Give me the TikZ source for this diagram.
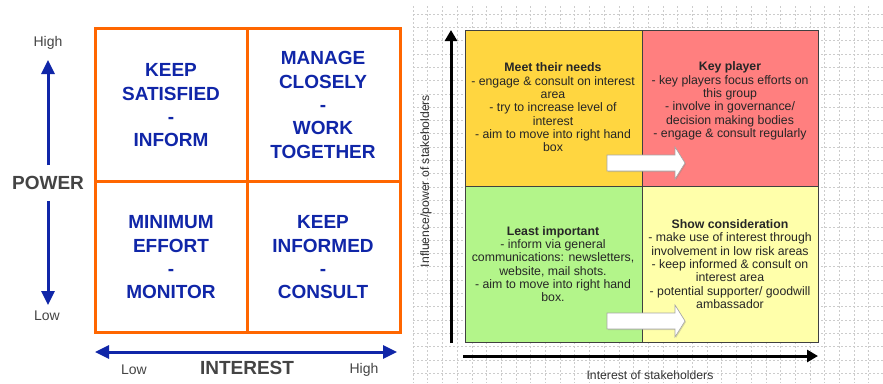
\documentclass[tikz,border=0pt]{standalone}
\usepackage{fontspec}
\setmainfont{Liberation Sans}
\usetikzlibrary{arrows.meta, shadows}
\definecolor{gridorange}{RGB}{255,102,0}
\definecolor{plannavy}{RGB}{16,38,168}
\definecolor{axisgray}{RGB}{68,68,68}
\definecolor{needs}{RGB}{255,214,64}
\definecolor{keyplayer}{RGB}{255,127,127}
\definecolor{leastimp}{RGB}{179,245,138}
\definecolor{consider}{RGB}{255,255,170}
\tikzset{
x=1pt, y=-1pt, % one unit is one pixel of the reference, y grows downwards
cell/.style={font=\fontsize{19}{23.3}\selectfont\bfseries, text=plannavy, align=center}, % the orange grid texts
biglabel/.style={font=\fontsize{19}{23}\selectfont\bfseries, text=axisgray}, % POWER and INTEREST
smalllabel/.style={font=\fontsize{14}{16}\selectfont, text=axisgray}, % High and Low
bluearrow/.style={draw=plannavy, line width=3pt, -{Triangle[length=14pt,width=13pt]}}, % blue axis arrows
quadtext/.style={font=\fontsize{12.3}{13.3}\selectfont, text=black!85, align=center}, % texts of the coloured boxes
axistext/.style={font=\fontsize{12.2}{13}\selectfont, text=black!80}, % stakeholder axis labels
blackarrow/.style={draw=black, line width=3pt, -{Triangle[length=11pt,width=12pt]}}, % black axis arrows
gridline/.style={draw=gray!40, line width=0.5pt, dash pattern=on 2pt off 2pt}, % background squares
blockarrow/.style={fill=white, draw=gray!70, line width=0.6pt, drop shadow={shadow xshift=1pt, shadow yshift=-1pt, opacity=0.3}}, % white block arrows
}
\begin{document}
\begin{tikzpicture}
\useasboundingbox[fill=white] (0,0) rectangle (883,383);

% left: power / interest grid
\draw[draw=gridorange, line width=3pt] (95,28) rectangle (400,332);
\draw[draw=gridorange, line width=3pt] (247,28) -- (247,332) (95,181) -- (400,181);
\node[cell] (satisfied) at (171,105.5) {KEEP\\SATISFIED\\-\\INFORM};
\node[cell] (closely) at (323,105) {MANAGE\\CLOSELY\\-\\WORK\\TOGETHER};
\node[cell] (minimum) at (171,257.5) {MINIMUM\\EFFORT\\-\\MONITOR};
\node[cell] (informed) at (323,257.5) {KEEP\\INFORMED\\-\\CONSULT};

\node[biglabel, inner ysep=11pt] (power) at (48,183) {POWER};
\node[smalllabel] (phigh) at (48,43) {High};
\node[smalllabel] (plow) at (47,316) {Low};
\coordinate (ptop) at (48,60);
\coordinate (pbottom) at (48,305);
\draw[bluearrow] (power) -- (ptop);
\draw[bluearrow] (power) -- (pbottom);

\node[biglabel] (interest) at (247,368) {INTEREST};
\node[smalllabel] (ilow) at (134,370) {Low};
\node[smalllabel] (ihigh) at (364,370) {High};
\coordinate (ileft) at (95,352);
\coordinate (iright) at (397,352);
\draw[bluearrow, {Triangle[length=14pt,width=13pt]}-{Triangle[length=14pt,width=13pt]}] (ileft) -- (iright);

% right: stakeholder matrix on squared paper
\foreach \gx in {413,427.7,...,883}
  \draw[gridline] (\gx,6) -- (\gx,383);
\foreach \gy in {14,27.3,...,383}
  \draw[gridline] (413,\gy) -- (883,\gy);

\fill[needs] (465,30) rectangle (642,186);
\fill[keyplayer] (642,30) rectangle (818,186);
\fill[leastimp] (465,186) rectangle (642,342);
\fill[consider] (642,186) rectangle (818,342);
\draw[black!75, line width=1pt] (465,30) rectangle (818,342) (642,30) -- (642,342) (465,186) -- (818,186);

\node[quadtext] (meet) at (553,107.5) {\textbf{Meet their needs}\\- engage \& consult on interest\\area\\- try to increase level of\\interest\\- aim to move into right hand\\box};
\node[quadtext] (key) at (730,101) {\textbf{Key player}\\- key players focus efforts on\\this group\\- involve in governance/\\decision making bodies\\- engage \& consult regularly};
\node[quadtext] (least) at (553,264) {\textbf{Least important}\\- inform via general\\communications: newsletters,\\website, mail shots.\\- aim to move into right hand\\box.};
\node[quadtext] (show) at (730,264) {\textbf{Show consideration}\\- make use of interest through\\involvement in low risk areas\\- keep informed \& consult on\\interest area\\- potential supporter/ goodwill\\ambassador};

\foreach \ay in {0,158}
  \draw[blockarrow] (607,155+\ay) -- (675,155+\ay) -- (675,147+\ay) -- (685,163+\ay)
    -- (675,179+\ay) -- (675,171+\ay) -- (607,171+\ay) -- cycle;

\coordinate (vbase) at (451,343);
\coordinate (vtop) at (451,30);
\coordinate (hbase) at (463,356);
\coordinate (hend) at (818,356);
\draw[blackarrow] (vbase) -- (vtop);
\draw[blackarrow] (hbase) -- (hend);
\node[axistext, rotate=90] (influence) at (426,181) {Influence/power of stakeholders};
\node[axistext] (stakeinterest) at (650,375) {Interest of stakeholders};
\end{tikzpicture}
\end{document}
